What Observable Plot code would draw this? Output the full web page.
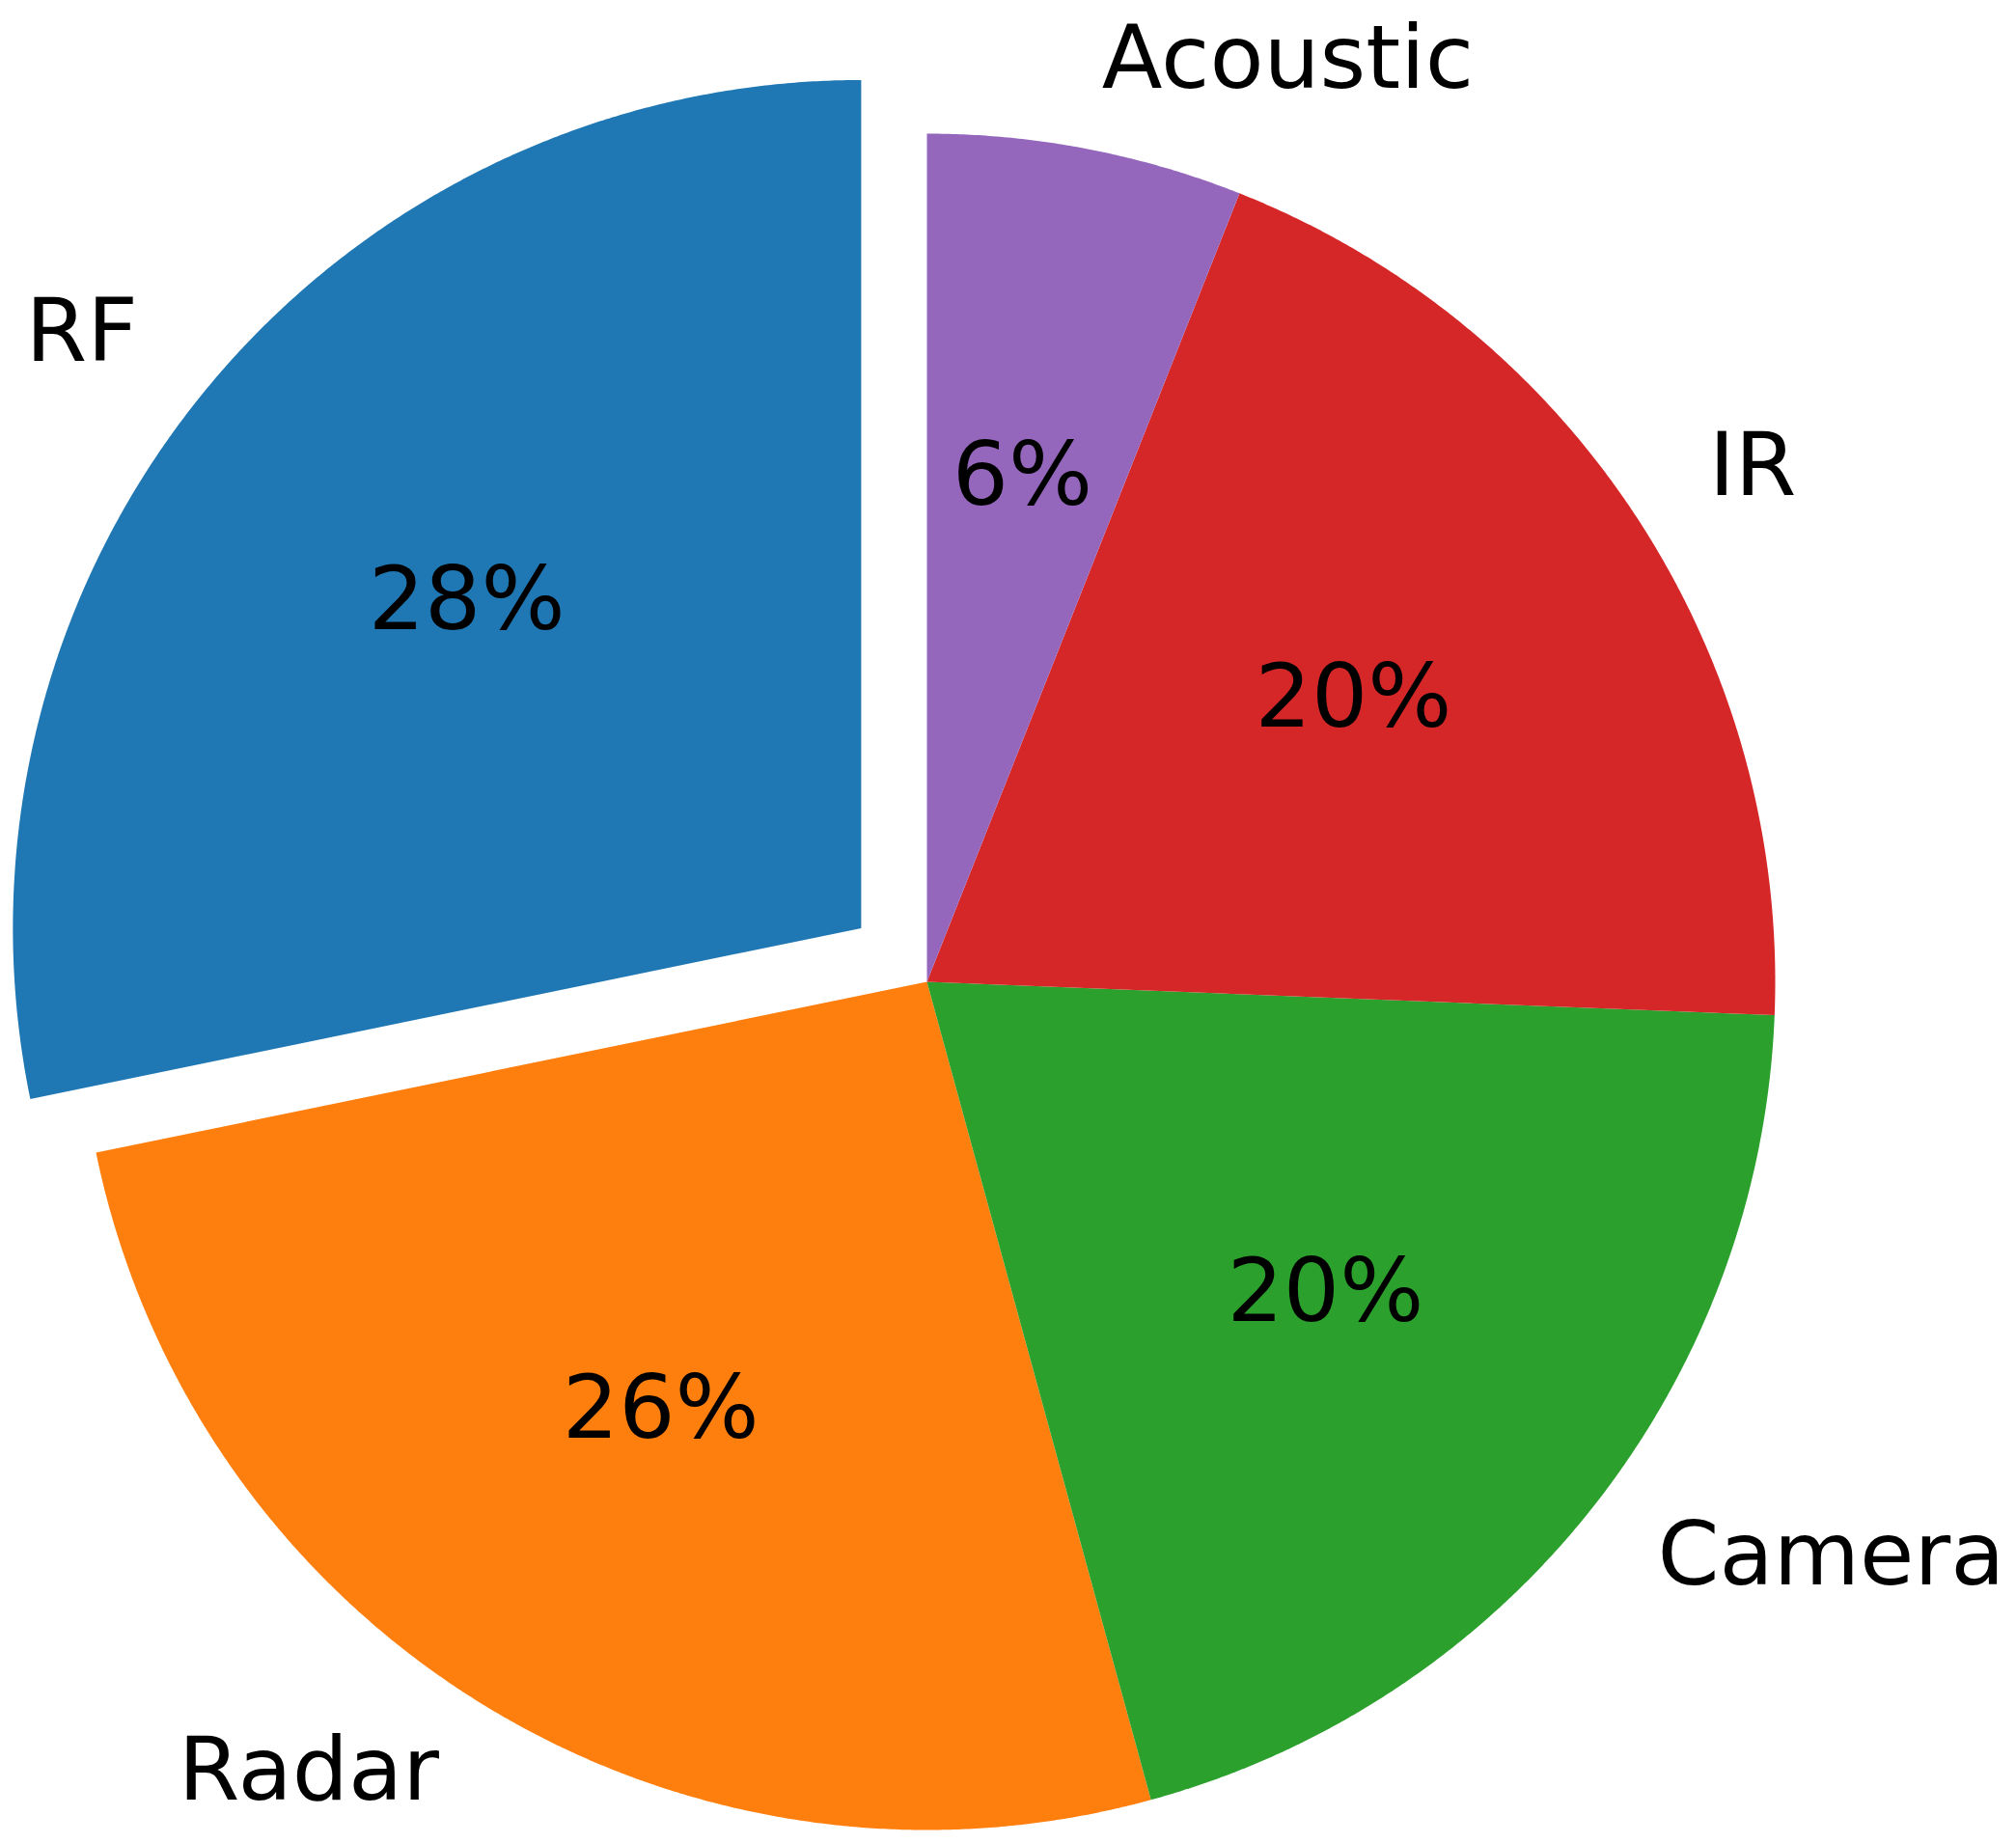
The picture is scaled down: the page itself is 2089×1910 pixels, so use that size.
<!DOCTYPE html>
<html>
<head>
<meta charset="utf-8">
<script src="https://cdn.jsdelivr.net/npm/d3@7"></script>
<script src="https://cdn.jsdelivr.net/npm/@observablehq/plot@0.6"></script>
<style>
  html, body { margin: 0; padding: 0; background: #fff; }
  #chart svg { display: block; }
</style>
</head>
<body>
<div id="chart"></div>
<script>
// Data
const labels = ["RF", "Radar", "Camera", "IR", "Acoustic"];
const values = [28.2, 26.0, 20.1, 19.6, 6.0];
const colors = ["#1f77b4", "#ff7f0e", "#2ca02c", "#d62728", "#9467bd"];
const explode = [0.1, 0, 0, 0, 0];
const startAngle = 90; // degrees, counter-clockwise

// Build slice geometry in unit-circle data space
const total = d3.sum(values);
const polys = [];
const labelPts = [];
const pctPts = [];
let a0 = startAngle;
values.forEach((v, i) => {
  const span = 360 * v / total;
  const a1 = a0 + span;
  const mid = (a0 + a1) / 2 * Math.PI / 180;
  const ox = explode[i] * Math.cos(mid), oy = explode[i] * Math.sin(mid);
  polys.push({label: labels[i], x: ox, y: oy});
  const n = Math.max(2, Math.ceil(span * 4));
  for (let k = 0; k <= n; k++) {
    const t = (a0 + span * k / n) * Math.PI / 180;
    polys.push({label: labels[i], x: ox + Math.cos(t), y: oy + Math.sin(t)});
  }
  const lx = ox + 1.1 * Math.cos(mid), ly = oy + 1.1 * Math.sin(mid);
  labelPts.push({label: labels[i], x: lx, y: ly, side: lx > 0 ? "left" : "right"});
  pctPts.push({text: Math.round(100 * v / total) + "%", x: ox + 0.6 * Math.cos(mid), y: oy + 0.6 * Math.sin(mid)});
  a0 = a1;
});

const W = 2089, H = 1910, cx = 960, cy = 1017, R = 879;
const fontSize = 91.7;
const dy = -6;

const chart = Plot.plot({
  width: W,
  height: H,
  margin: 0,
  style: {fontFamily: "DejaVu Sans", background: "white"},
  x: {domain: [-cx / R, (W - cx) / R], axis: null},
  y: {domain: [-(H - cy) / R, cy / R], axis: null},
  color: {domain: labels, range: colors},
  marks: [
    Plot.line(polys, {x: "x", y: "y", z: "label", fill: "label", stroke: "none", curve: "linear-closed"}),
    Plot.text(labelPts.filter(d => d.side === "left"), {x: "x", y: "y", text: "label", textAnchor: "start", fontSize, dy, fill: "black"}),
    Plot.text(labelPts.filter(d => d.side === "right"), {x: "x", y: "y", text: "label", textAnchor: "end", fontSize, dy, fill: "black"}),
    Plot.text(pctPts, {x: "x", y: "y", text: "text", fontSize, dy, fill: "black"})
  ]
});
document.getElementById("chart").appendChild(chart);
</script>
</body>
</html>
